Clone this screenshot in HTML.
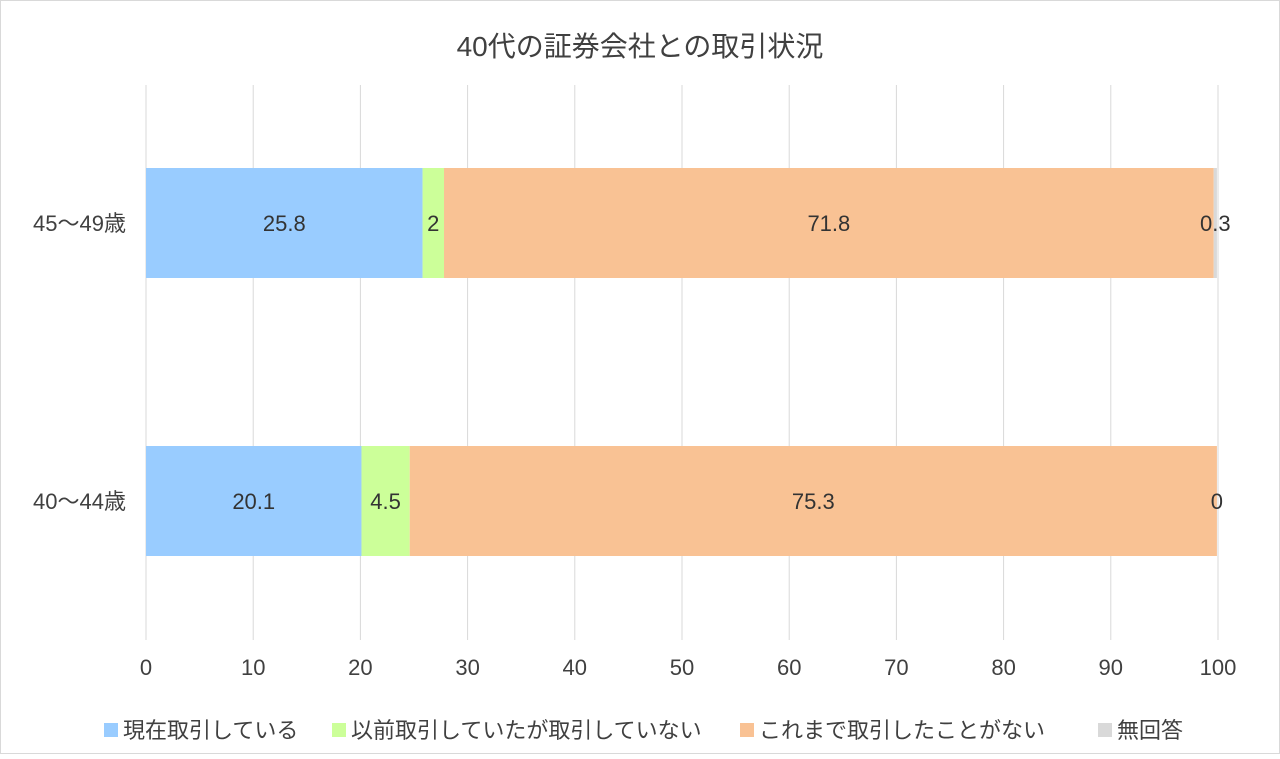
<!DOCTYPE html>
<html><head><meta charset="utf-8"><style>
body{margin:0;background:#fff;}
svg text{font-family:"Liberation Sans","Noto Sans CJK JP",sans-serif;}
</style></head><body>
<svg id="chart" width="1280" height="754" xmlns="http://www.w3.org/2000/svg">
<rect x="0.5" y="0.5" width="1279" height="753" fill="#fff" stroke="#d9d9d9"/>
<text x="640" y="56" text-anchor="middle" font-size="28" fill="#404040">40代の証券会社との取引状況</text>
<g id="grid"></g><g id="bars"></g><g id="labels"></g><g id="legend"></g>
</svg>
<script>
const categories = ["45〜49歳", "40〜44歳"];
const seriesNames = ["現在取引している", "以前取引していたが取引していない", "これまで取引したことがない", "無回答"];
const current = [25.8, 20.1];
const former = [2, 4.5];
const never = [71.8, 75.3];
const noAnswer = [0.3, 0];
const ticks = [0,10,20,30,40,50,60,70,80,90,100];
const colors = ["#99CCFF","#CCFF99","#F9C294","#D9D9D9"];
const NS="http://www.w3.org/2000/svg";
const x = v => 146 + v*10.72;
const yCenter = i => 223 + i*278;
const barH = 110;
function mk(tag, attrs, parent){const e=document.createElementNS(NS,tag);for(const k in attrs)e.setAttribute(k,attrs[k]);document.getElementById(parent).appendChild(e);return e;}
ticks.forEach(t=>{
  const l=mk('line',{x1:x(t),x2:x(t),y1:85,y2:640,stroke:'#d9d9d9','stroke-width':1},'grid');
  
  
  const tx=mk('text',{x:x(t),y:675,'text-anchor':'middle','font-size':22,fill:'#404040'},'grid');
  tx.textContent=t;
  
  
});
const series=[current,former,never,noAnswer];
categories.forEach((c,i)=>{
  const cl=mk('text',{x:126,y:yCenter(i)+8,'text-anchor':'end','font-size':22,fill:'#404040'},'labels');
  cl.textContent=c;
  
  
  let acc=0;
  series.forEach((s,j)=>{
    const v=s[i];
    const r=mk('rect',{x:x(acc),y:yCenter(i)-barH/2,width:x(acc+v)-x(acc),height:barH,fill:colors[j]},'bars');
    
    
    const t=mk('text',{x:x(acc+v/2),y:yCenter(i)+8,'text-anchor':'middle','font-size':22,fill:'#333333'},'labels');
    t.textContent=v;
    
    
    acc+=v;
  });
});
const legX=[104,332,740,1098];
seriesNames.forEach((n,j)=>{
  const r=mk('rect',{x:legX[j],y:723,width:14,height:14,fill:colors[j]},'legend');
  
  
  const t=mk('text',{x:legX[j]+19,y:738,'font-size':22,fill:'#404040'},'legend');
  t.textContent=n;
  
  
});
</script>
</body></html>
